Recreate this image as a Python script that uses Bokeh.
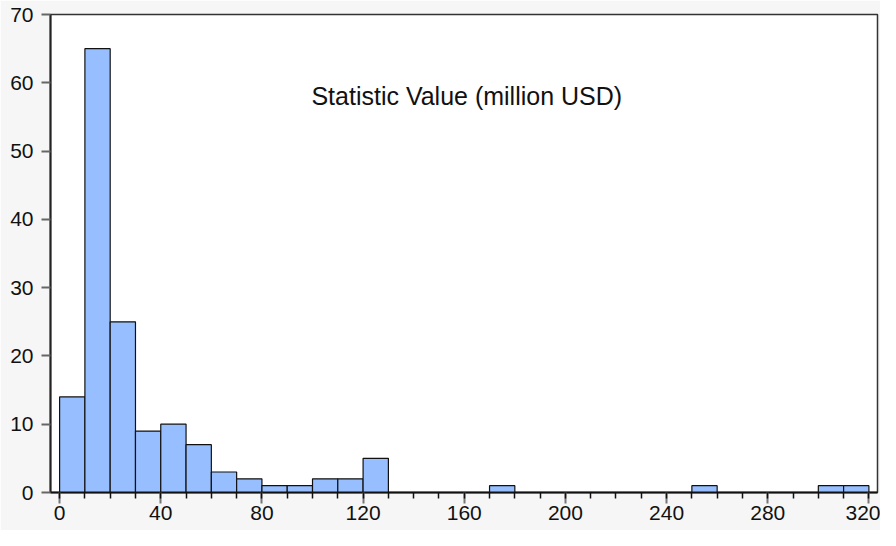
from bokeh.plotting import figure
from bokeh.models import SingleIntervalTicker, Label, Range1d, ColumnDataSource
from bokeh.embed import file_html
from bokeh.resources import INLINE

# Histogram bins (million USD), width 10
bin_left = [0, 10, 20, 30, 40, 50, 60, 70, 80, 90, 100, 110, 120, 170, 250, 300, 310]
bin_right = [10, 20, 30, 40, 50, 60, 70, 80, 90, 100, 110, 120, 130, 180, 260, 310, 320]
counts = [14, 65, 25, 9, 10, 7, 3, 2, 1, 1, 2, 2, 5, 1, 1, 1, 1]

title_text = "Statistic Value (million USD)"

src = ColumnDataSource(dict(left=bin_left, right=bin_right, top=counts,
                            bottom=[0] * len(counts)))

p = figure(width=880, height=530, output_backend="svg", toolbar_location=None,
           x_range=Range1d(-3.6, 323.4), y_range=Range1d(0, 70),
           min_border_left=50, min_border_right=3, min_border_top=14, min_border_bottom=38)

p.quad(left="left", right="right", top="top", bottom="bottom", source=src,
       fill_color="#97BFFF", line_color="#111111", line_width=1.2)

p.background_fill_color = "white"
p.border_fill_color = "#f6f6f6"
p.outline_line_color = "#333333"
p.outline_line_width = 1.5
p.grid.visible = False

xa = p.xaxis[0]
xa.ticker = SingleIntervalTicker(interval=40, num_minor_ticks=4)
xa.axis_line_color = "#111111"
xa.axis_line_width = 2
xa.major_tick_line_color = "#777777"
xa.major_tick_line_width = 2
xa.major_tick_out = 11
xa.major_tick_in = 0
xa.minor_tick_line_color = "#111111"
xa.minor_tick_line_width = 1.5
xa.minor_tick_out = 6
xa.minor_tick_in = 0
xa.major_label_text_font = "Liberation Sans"
xa.major_label_text_font_size = "21px"
xa.major_label_text_color = "#111111"
xa.major_label_standoff = 2

ya = p.yaxis[0]
ya.ticker = SingleIntervalTicker(interval=10, num_minor_ticks=0)
ya.axis_line_color = "#222222"
ya.axis_line_width = 2
ya.major_tick_line_color = "#666666"
ya.major_tick_line_width = 2
ya.major_tick_out = 9
ya.major_tick_in = 0
ya.minor_tick_line_color = None
ya.major_label_text_font = "Liberation Sans"
ya.major_label_text_font_size = "21px"
ya.major_label_text_color = "#111111"
ya.major_label_standoff = 8

p.add_layout(Label(x=161, y=58, text=title_text, text_align="center",
                   text_baseline="middle", text_font="Liberation Sans",
                   text_font_size="25px", text_color="#111111"))

open("out.html", "w").write(file_html(p, INLINE))
